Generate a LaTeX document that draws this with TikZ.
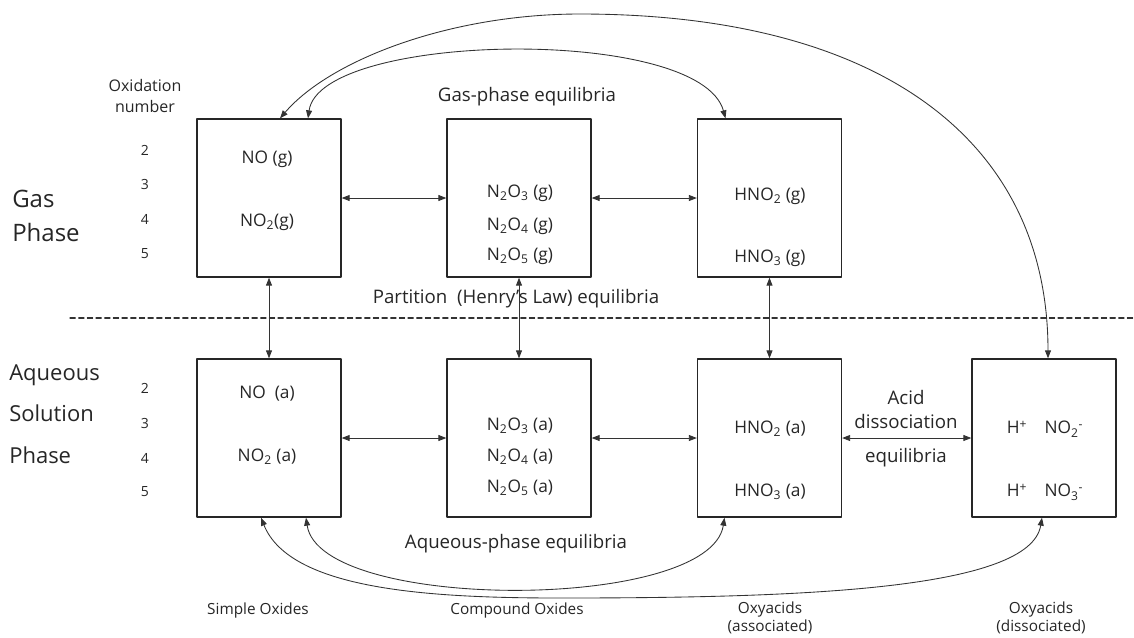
\documentclass[tikz,border=0pt]{standalone}
\usepackage{fontspec}
\setmainfont{Open Sans}
\usetikzlibrary{arrows.meta,calc}

\begin{document}
\begin{tikzpicture}[line cap=round,line join=round,x=0.75pt,y=-0.75pt,
    box/.style={draw=black!85,line width=1pt,minimum width=108pt,minimum height=118.5pt,inner sep=0pt},
    species/.style={inner sep=0pt,font=\fontsize{13}{15}\selectfont,text=black!85},
    caption/.style={inner sep=0pt,font=\fontsize{14}{17}\selectfont,text=black!85},
    small/.style={inner sep=0pt,font=\fontsize{11.5}{13.5}\selectfont,text=black!85,align=center},
    biarrow/.style={arrows={Triangle[length=6pt,width=4.5pt]-Triangle[length=6pt,width=4.5pt]},line width=0.65pt,draw=black!80}]
  \useasboundingbox (0,0) rectangle (1134,637);

  % boxes
  \node[box] (b1g) at (269,198) {};
  \node[box] (b2g) at (519,198) {};
  \node[box] (b3g) at (769.5,198) {};
  \node[box] (b1a) at (269,438) {};
  \node[box] (b2a) at (519,438) {};
  \node[box] (b3a) at (769.5,438) {};
  \node[box] (b4a) at (1044,438) {};

  % contents
  \node[species] (nog)   at (267,159) {NO (g)};
  \node[species] (no2g)  at (267,222) {NO\textsubscript{2}(g)};
  \node[species] (n2o3g) at (520,193) {N\textsubscript{2}O\textsubscript{3} (g)};
  \node[species] (n2o4g) at (520,226) {N\textsubscript{2}O\textsubscript{4} (g)};
  \node[species] (n2o5g) at (520,256) {N\textsubscript{2}O\textsubscript{5} (g)};
  \node[species] (hno2g) at (770,196) {HNO\textsubscript{2} (g)};
  \node[species] (hno3g) at (770,258) {HNO\textsubscript{3} (g)};
  \node[species] (noa)   at (267,394) {NO\ \ (a)};
  \node[species] (no2a)  at (267,457) {NO\textsubscript{2} (a)};
  \node[species] (n2o3a) at (520,426) {N\textsubscript{2}O\textsubscript{3} (a)};
  \node[species] (n2o4a) at (520,457) {N\textsubscript{2}O\textsubscript{4} (a)};
  \node[species] (n2o5a) at (520,488) {N\textsubscript{2}O\textsubscript{5} (a)};
  \node[species] (hno2a) at (770,429) {HNO\textsubscript{2} (a)};
  \node[species] (hno3a) at (770,492) {HNO\textsubscript{3} (a)};
  \node[species] (ionno2) at (1045,429) {H\textsuperscript{+}\quad NO\textsubscript{2}\textsuperscript{-}};
  \node[species] (ionno3) at (1045,492) {H\textsuperscript{+}\quad NO\textsubscript{3}\textsuperscript{-}};

  % oxidation numbers
  \node[inner sep=0pt,font=\fontsize{12}{15.75}\selectfont,align=center,text=black!85] (oxnum) at (145,95.5) {Oxidation\\number};
  \foreach \n/\yg/\ya in {2/150/388,3/184/423,4/219/458,5/254/492}{
    \node[inner sep=0pt,font=\fontsize{10.5}{12}\selectfont,text=black!85] (ng\n) at (145,\yg) {\n};
    \node[inner sep=0pt,font=\fontsize{10.5}{12}\selectfont,text=black!85] (na\n) at (145,\ya) {\n};
  }

  % phase labels
  \node[inner sep=0pt,anchor=west,align=left,font=\fontsize{18}{25.5}\selectfont,text=black!85] (gasph) at (12,216) {Gas\\Phase};
  \node[inner sep=0pt,anchor=west,align=left,font=\fontsize{16.5}{31}\selectfont,text=black!85] (aqph) at (9,414) {Aqueous\\Solution\\Phase};

  \node[caption] (gaseq) at (527,97) {Gas-phase equilibria};
  \node[caption] (henry) at (516,299) {Partition\ \ (Henry's Law) equilibria};
  \node[caption] (aqeq) at (516,544) {Aqueous-phase equilibria};
  \node[caption,align=center,font=\fontsize{14}{18}\selectfont] (acid) at (906,409) {Acid\\dissociation};
  \node[caption] (acideq) at (906,458) {equilibria};

  \node[small] (simple) at (258,611) {Simple Oxides};
  \node[small] (compound) at (517,611) {Compound Oxides};
  \node[small] (assoc) at (770,618) {Oxyacids\\(associated)};
  \node[small] (dissoc) at (1041,618) {Oxyacids\\(dissociated)};

  % phase boundary
  \draw[black!80,line width=0.8pt,dash pattern=on 4pt off 2.5pt] (70,318) -- (1134,318);

  % equilibria
  \draw[biarrow] (b1g) -- (b2g);
  \draw[biarrow] (b2g) -- (b3g);
  \draw[biarrow] (b1a) -- (b2a);
  \draw[biarrow] (b2a) -- (b3a);
  \draw[biarrow] (b3a) -- (b4a);
  \draw[biarrow] (b1g) -- (b1a);
  \draw[biarrow] (b2g) -- (b2a);
  \draw[biarrow] (b3g) -- (b3a);

  \coordinate (topc) at (580,14);
  \coordinate (botc) at (560,598);
  \draw[biarrow] ($(b1g.north)+(11,0)$) .. controls (330,60) and (450,14) .. (topc)
    .. controls (880,14) and (1048,140) .. ($(b4a.north)+(4,0)$);
  \draw[biarrow] ($(b1g.north)+(39,0)$) .. controls (320,32) and (700,25) .. ($(b3g.north)+(-44,0)$);
  \draw[biarrow] ($(b1a.south)+(-8,0)$) .. controls (290,590) and (430,598) .. (botc)
    .. controls (800,598) and (1030,590) .. ($(b4a.south)+(-2,0)$);
  \draw[biarrow] ($(b1a.south)+(37,0)$) .. controls (320,612) and (710,612) .. ($(b3a.south)+(-45,0)$);
\end{tikzpicture}
\end{document}
